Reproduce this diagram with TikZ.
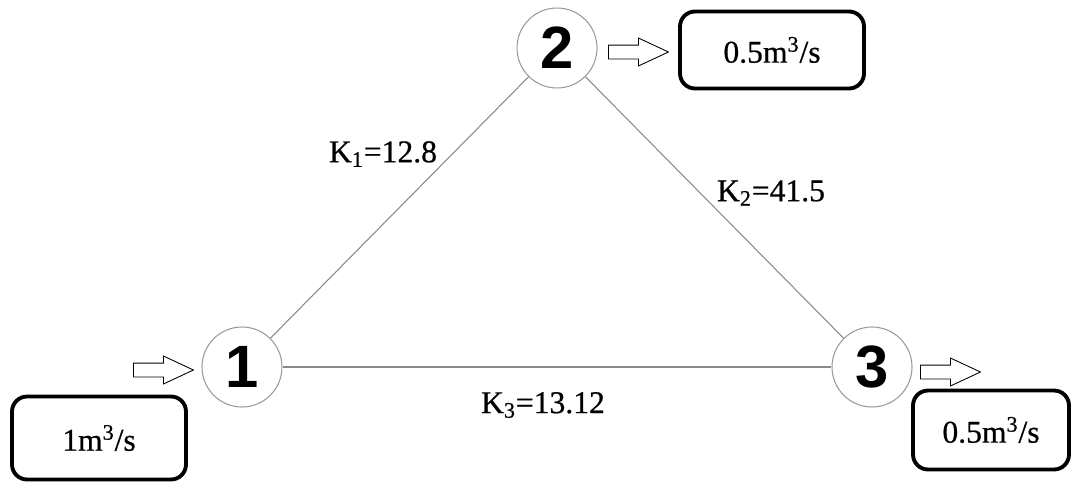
\documentclass[tikz,border=0pt]{standalone}
\usepackage{fontspec}
\setmainfont{Liberation Serif}[FakeBold=0.6]
\newfontfamily\digitfont{Liberation Sans}
\usepackage{tikz}
\usetikzlibrary{shapes.arrows}
\definecolor{pipegray}{HTML}{8A8A8A}
\definecolor{ringgray}{HTML}{9A9A9A}

\begin{document}
\begin{tikzpicture}[x=0.02cm,y=-0.02cm,
    junction/.style={circle,draw=ringgray,line width=0.6pt,minimum size=1.6cm,inner sep=0pt,
      font=\digitfont\bfseries\fontsize{34}{34}\selectfont},
    pipe/.style={draw=pipegray,line width=0.6pt},
    flowbox/.style={draw,line width=2.2pt,rounded corners=0.3cm,inner sep=0pt,
      font=\fontsize{18}{20}\selectfont},
    flowarrow/.style={single arrow,draw,line width=0.5pt,minimum height=1.2cm,
      single arrow head extend=0.14cm,single arrow tip angle=50,inner sep=0.13cm,anchor=tail},
    klabel/.style={font=\fontsize{18}{20}\selectfont}]
  \useasboundingbox (0,0) rectangle (1075,487);
  % junctions
  \node[junction] (n1) at (242,367) {1};
  \node[junction] (n2) at (557,48) {2};
  \node[junction] (n3) at (872,367) {3};
  % pipes
  \draw[pipe] (n1) -- (n2);
  \draw[pipe] (n2) -- (n3);
  \draw[pipe] (n1) -- (n3);
  \node[klabel] (k1) at (383,154) {K\textsubscript{1}=12.8};
  \node[klabel] (k2) at (771,193) {K\textsubscript{2}=41.5};
  \node[klabel] (k3) at (543,405) {K\textsubscript{3}=13.12};
  % inflow and outflows
  \node[flowarrow] (in1) at (133,370) {};
  \node[flowarrow] (out2) at (608,52) {};
  \node[flowarrow] (out3) at (920,372) {};
  \node[flowbox,minimum width=3.48cm,minimum height=1.66cm] (q1) at (99,438) {1m\textsuperscript{3}/s};
  \node[flowbox,minimum width=3.68cm,minimum height=1.54cm] (q2) at (772,50) {0.5m\textsuperscript{3}/s};
  \node[flowbox,minimum width=3.12cm,minimum height=1.58cm] (q3) at (991,430) {0.5m\textsuperscript{3}/s};
\end{tikzpicture}
\end{document}
